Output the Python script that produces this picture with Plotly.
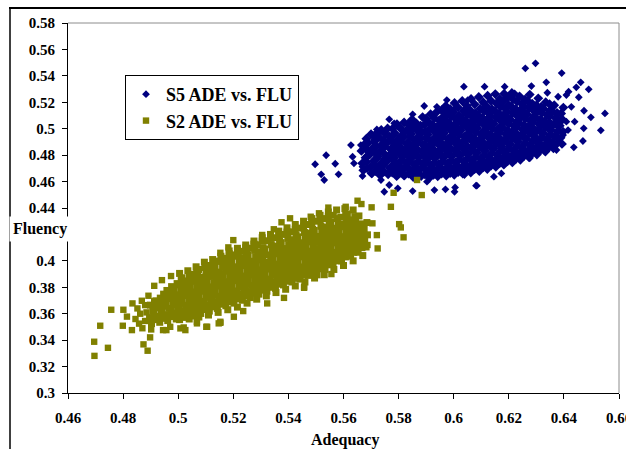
import plotly.graph_objects as go

# ---- data ----
s5_core = [
    (0.5672,0.4685),(0.5668,0.4738),(0.5680,0.4781),(0.5665,0.4832),(0.5675,0.4879),(0.5683,0.4925),
    (0.5702,0.4662),(0.5698,0.4710),(0.5710,0.4757),(0.5695,0.4805),(0.5705,0.4851),(0.5712,0.4902),(0.5700,0.4958),
    (0.5733,0.4648),(0.5728,0.4695),(0.5738,0.4741),(0.5725,0.4790),(0.5735,0.4836),(0.5741,0.4884),(0.5729,0.4935),(0.5737,0.4990),
    (0.5762,0.4655),(0.5768,0.4702),(0.5755,0.4750),(0.5765,0.4797),(0.5771,0.4845),(0.5758,0.4893),(0.5766,0.4941),(0.5760,0.5002),
    (0.5793,0.4641),(0.5788,0.4688),(0.5797,0.4733),(0.5785,0.4781),(0.5795,0.4826),(0.5790,0.4874),(0.5799,0.4921),(0.5786,0.4968),(0.5794,0.5035),
    (0.5822,0.4650),(0.5818,0.4697),(0.5827,0.4745),(0.5815,0.4790),(0.5824,0.4838),(0.5829,0.4886),(0.5817,0.4934),(0.5826,0.4983),(0.5820,0.5047),
    (0.5853,0.4635),(0.5848,0.4681),(0.5857,0.4727),(0.5845,0.4773),(0.5855,0.4820),(0.5850,0.4866),(0.5858,0.4912),(0.5846,0.4960),(0.5854,0.5010),(0.5849,0.5070),
    (0.5882,0.4642),(0.5877,0.4690),(0.5886,0.4736),(0.5874,0.4783),(0.5884,0.4829),(0.5889,0.4877),(0.5878,0.4924),(0.5885,0.4972),(0.5880,0.5022),(0.5887,0.5088),
    (0.5913,0.4630),(0.5908,0.4676),(0.5917,0.4722),(0.5905,0.4768),(0.5915,0.4815),(0.5910,0.4861),(0.5918,0.4907),(0.5906,0.4954),(0.5914,0.5001),(0.5909,0.5050),(0.5916,0.5110),
    (0.5942,0.4640),(0.5937,0.4687),(0.5946,0.4733),(0.5934,0.4780),(0.5944,0.4826),(0.5949,0.4873),(0.5938,0.4920),(0.5945,0.4967),(0.5940,0.5014),(0.5947,0.5063),(0.5939,0.5128),
    (0.5973,0.4645),(0.5968,0.4692),(0.5977,0.4738),(0.5965,0.4784),(0.5975,0.4830),(0.5970,0.4877),(0.5978,0.4923),(0.5966,0.4970),(0.5974,0.5017),(0.5969,0.5065),(0.5976,0.5115),(0.5971,0.5172),
    (0.6002,0.4652),(0.5997,0.4698),(0.6006,0.4745),(0.5994,0.4791),(0.6004,0.4838),(0.6009,0.4884),(0.5998,0.4931),(0.6005,0.4978),(0.6000,0.5025),(0.6007,0.5073),(0.5999,0.5124),(0.6003,0.5195),
    (0.6033,0.4660),(0.6028,0.4707),(0.6037,0.4753),(0.6025,0.4800),(0.6035,0.4846),(0.6030,0.4893),(0.6038,0.4940),(0.6026,0.4987),(0.6034,0.5034),(0.6029,0.5082),(0.6036,0.5133),(0.6031,0.5210),
    (0.6062,0.4668),(0.6057,0.4715),(0.6066,0.4761),(0.6054,0.4808),(0.6064,0.4855),(0.6069,0.4901),(0.6058,0.4948),(0.6065,0.4995),(0.6060,0.5042),(0.6067,0.5090),(0.6059,0.5142),(0.6063,0.5225),
    (0.6093,0.4680),(0.6088,0.4726),(0.6097,0.4772),(0.6085,0.4819),(0.6095,0.4865),(0.6090,0.4912),(0.6098,0.4958),(0.6086,0.5005),(0.6094,0.5052),(0.6089,0.5100),(0.6096,0.5152),(0.6091,0.5240),
    (0.6122,0.4695),(0.6117,0.4741),(0.6126,0.4787),(0.6114,0.4833),(0.6124,0.4880),(0.6129,0.4926),(0.6118,0.4973),(0.6125,0.5020),(0.6120,0.5068),(0.6127,0.5117),(0.6119,0.5170),(0.6123,0.5250),
    (0.6153,0.4712),(0.6148,0.4758),(0.6157,0.4804),(0.6145,0.4850),(0.6155,0.4897),(0.6150,0.4943),(0.6158,0.4990),(0.6146,0.5037),(0.6154,0.5085),(0.6149,0.5135),(0.6156,0.5190),(0.6151,0.5262),
    (0.6182,0.4728),(0.6177,0.4774),(0.6186,0.4820),(0.6174,0.4866),(0.6184,0.4913),(0.6189,0.4959),(0.6178,0.5006),(0.6185,0.5053),(0.6180,0.5101),(0.6187,0.5152),(0.6179,0.5205),(0.6183,0.5265),
    (0.6213,0.4745),(0.6208,0.4791),(0.6217,0.4837),(0.6205,0.4883),(0.6215,0.4929),(0.6210,0.4975),(0.6218,0.5022),(0.6206,0.5069),(0.6214,0.5117),(0.6209,0.5168),(0.6216,0.5222),(0.6211,0.5270),
    (0.6242,0.4765),(0.6237,0.4811),(0.6246,0.4857),(0.6234,0.4903),(0.6244,0.4949),(0.6249,0.4995),(0.6238,0.5042),(0.6245,0.5089),(0.6240,0.5137),(0.6247,0.5188),(0.6239,0.5245),
    (0.6273,0.4785),(0.6268,0.4831),(0.6277,0.4877),(0.6265,0.4923),(0.6275,0.4969),(0.6270,0.5015),(0.6278,0.5062),(0.6266,0.5109),(0.6274,0.5157),(0.6269,0.5208),(0.6276,0.5258),
    (0.6302,0.4805),(0.6297,0.4851),(0.6306,0.4897),(0.6294,0.4943),(0.6304,0.4989),(0.6309,0.5035),(0.6298,0.5082),(0.6305,0.5129),(0.6300,0.5177),(0.6307,0.5230),
    (0.6333,0.4828),(0.6328,0.4874),(0.6337,0.4920),(0.6325,0.4966),(0.6335,0.5012),(0.6330,0.5058),(0.6338,0.5105),(0.6326,0.5152),(0.6334,0.5200),
    (0.6362,0.4852),(0.6357,0.4898),(0.6366,0.4944),(0.6354,0.4990),(0.6364,0.5036),(0.6369,0.5082),(0.6358,0.5129),(0.6365,0.5178),
    (0.6393,0.4885),(0.6388,0.4931),(0.6397,0.4977),(0.6385,0.5023),(0.6395,0.5069),(0.6390,0.5115),(0.6398,0.5160),
]
s5_core_mid = [
    (0.5686,0.4700),(0.5683,0.4748),(0.5689,0.4795),(0.5684,0.4842),(0.5688,0.4890),
    (0.5716,0.4680),(0.5713,0.4727),(0.5719,0.4773),(0.5714,0.4820),(0.5718,0.4868),(0.5715,0.4918),(0.5720,0.4965),
    (0.5747,0.4675),(0.5744,0.4722),(0.5750,0.4770),(0.5745,0.4816),(0.5749,0.4864),(0.5746,0.4912),(0.5751,0.4962),
    (0.5777,0.4668),(0.5774,0.4715),(0.5780,0.4762),(0.5775,0.4808),(0.5779,0.4856),(0.5776,0.4902),(0.5781,0.4950),(0.5778,0.5000),
    (0.5808,0.4668),(0.5805,0.4716),(0.5811,0.4762),(0.5806,0.4808),(0.5810,0.4855),(0.5807,0.4903),(0.5812,0.4950),(0.5809,0.4998),
    (0.5836,0.4660),(0.5833,0.4706),(0.5839,0.4752),(0.5834,0.4800),(0.5838,0.4846),(0.5835,0.4894),(0.5840,0.4942),(0.5837,0.4990),(0.5834,0.5035),
    (0.5867,0.4658),(0.5864,0.4704),(0.5870,0.4750),(0.5865,0.4797),(0.5869,0.4843),(0.5866,0.4890),(0.5871,0.4938),(0.5868,0.4985),(0.5865,0.5040),
    (0.5896,0.4653),(0.5893,0.4700),(0.5899,0.4745),(0.5894,0.4792),(0.5898,0.4838),(0.5895,0.4885),(0.5900,0.4932),(0.5897,0.4980),(0.5894,0.5030),(0.5899,0.5075),
    (0.5927,0.4652),(0.5924,0.4698),(0.5930,0.4745),(0.5925,0.4792),(0.5929,0.4838),(0.5926,0.4885),(0.5931,0.4932),(0.5928,0.4980),(0.5925,0.5028),(0.5930,0.5080),
    (0.5956,0.4660),(0.5953,0.4706),(0.5959,0.4752),(0.5954,0.4798),(0.5958,0.4845),(0.5955,0.4892),(0.5960,0.4940),(0.5957,0.4988),(0.5954,0.5035),(0.5959,0.5085),(0.5956,0.5140),
    (0.5987,0.4665),(0.5984,0.4712),(0.5990,0.4758),(0.5985,0.4805),(0.5989,0.4852),(0.5986,0.4898),(0.5991,0.4945),(0.5988,0.4993),(0.5985,0.5040),(0.5990,0.5090),(0.5987,0.5150),
    (0.6016,0.4672),(0.6013,0.4720),(0.6019,0.4766),(0.6014,0.4812),(0.6018,0.4860),(0.6015,0.4906),(0.6020,0.4952),(0.6017,0.5000),(0.6014,0.5048),(0.6019,0.5098),(0.6016,0.5160),
    (0.6047,0.4684),(0.6044,0.4730),(0.6050,0.4776),(0.6045,0.4822),(0.6049,0.4868),(0.6046,0.4915),(0.6051,0.4962),(0.6048,0.5010),(0.6045,0.5058),(0.6050,0.5105),(0.6047,0.5175),
    (0.6076,0.4695),(0.6073,0.4740),(0.6079,0.4786),(0.6074,0.4832),(0.6078,0.4880),(0.6075,0.4926),(0.6080,0.4972),(0.6077,0.5020),(0.6074,0.5068),(0.6079,0.5118),(0.6076,0.5185),
    (0.6107,0.4708),(0.6104,0.4755),(0.6110,0.4800),(0.6105,0.4846),(0.6109,0.4892),(0.6106,0.4940),(0.6111,0.4986),(0.6108,0.5034),(0.6105,0.5082),(0.6110,0.5132),(0.6107,0.5200),
    (0.6136,0.4722),(0.6133,0.4768),(0.6139,0.4815),(0.6134,0.4862),(0.6138,0.4908),(0.6135,0.4954),(0.6140,0.5000),(0.6137,0.5048),(0.6134,0.5096),(0.6139,0.5148),(0.6136,0.5210),
    (0.6167,0.4740),(0.6164,0.4786),(0.6170,0.4832),(0.6165,0.4878),(0.6169,0.4925),(0.6166,0.4972),(0.6171,0.5018),(0.6168,0.5066),(0.6165,0.5115),(0.6170,0.5165),(0.6167,0.5225),
    (0.6196,0.4756),(0.6193,0.4802),(0.6199,0.4848),(0.6194,0.4895),(0.6198,0.4940),(0.6195,0.4988),(0.6200,0.5035),(0.6197,0.5082),(0.6194,0.5130),(0.6199,0.5180),(0.6196,0.5235),
    (0.6227,0.4775),(0.6224,0.4822),(0.6230,0.4868),(0.6225,0.4915),(0.6229,0.4960),(0.6226,0.5008),(0.6231,0.5055),(0.6228,0.5102),(0.6225,0.5150),(0.6230,0.5205),
    (0.6256,0.4795),(0.6253,0.4842),(0.6259,0.4888),(0.6254,0.4935),(0.6258,0.4980),(0.6255,0.5028),(0.6260,0.5075),(0.6257,0.5122),(0.6254,0.5170),(0.6259,0.5222),
    (0.6287,0.4818),(0.6284,0.4864),(0.6290,0.4910),(0.6285,0.4956),(0.6289,0.5002),(0.6286,0.5048),(0.6291,0.5095),(0.6288,0.5142),(0.6285,0.5190),
    (0.6316,0.4840),(0.6313,0.4886),(0.6319,0.4932),(0.6314,0.4978),(0.6318,0.5024),(0.6315,0.5070),(0.6320,0.5118),(0.6317,0.5165),
    (0.6347,0.4862),(0.6344,0.4908),(0.6350,0.4955),(0.6345,0.5000),(0.6349,0.5046),(0.6346,0.5094),(0.6351,0.5140),(0.6348,0.5185),
    (0.6376,0.4890),(0.6373,0.4936),(0.6379,0.4982),(0.6374,0.5028),(0.6378,0.5074),(0.6375,0.5120),
]
s5_fringe = [
    (0.5497,0.4731),(0.5537,0.4799),(0.5570,0.4735),(0.5519,0.4655),(0.5530,0.4612),(0.5582,0.4655),
    (0.5627,0.4876),(0.5663,0.4876),(0.5633,0.4788),(0.5638,0.4738),(0.5669,0.4712),(0.5669,0.4642),
    (0.5703,0.4655),(0.5736,0.4612),(0.5766,0.4574),(0.5748,0.4523),(0.5797,0.4549),(0.5851,0.4528),
    (0.5930,0.4536),(0.5970,0.4541),(0.6005,0.4556),(0.6003,0.4523),(0.5820,0.4637),(0.5903,0.4599),
    (0.5693,0.4894),(0.5705,0.4952),(0.5721,0.4995),(0.5766,0.5071),(0.5784,0.5041),(0.5818,0.5045),
    (0.5851,0.5109),(0.5893,0.5172),(0.5939,0.5166),(0.5975,0.5217),(0.6005,0.5154),(0.6051,0.5217),
    (0.6037,0.5318),(0.6112,0.5318),(0.6185,0.5318),(0.6221,0.5268),(0.6282,0.5323),(0.6260,0.5457),
    (0.6297,0.5495),(0.6336,0.5351),(0.6340,0.5272),(0.6379,0.5242),(0.6409,0.5255),(0.6392,0.5421),
    (0.6461,0.5351),(0.6490,0.5298),(0.6445,0.5313),(0.6417,0.5280),(0.6454,0.5238),(0.6427,0.5166),
    (0.6473,0.5136),(0.6498,0.5086),(0.6549,0.5116),(0.6534,0.4988),(0.6472,0.5003),(0.6439,0.5053),
    (0.6409,0.5053),(0.6415,0.4990),(0.6397,0.4952),(0.6469,0.4907),(0.6436,0.4859),(0.6373,0.4839),
    (0.6330,0.4826),(0.6343,0.4877),(0.6306,0.4914),(0.6276,0.4776),(0.6239,0.4788),(0.6173,0.4662),
    (0.6146,0.4637),(0.6081,0.4569),(0.6039,0.4649),(0.6084,0.4569),
]
s2_core = [
    (0.4903,0.3525),(0.4896,0.3570),(0.4908,0.3618),(0.4899,0.3665),
    (0.4933,0.3535),(0.4926,0.3580),(0.4938,0.3627),(0.4929,0.3672),(0.4935,0.3718),
    (0.4962,0.3548),(0.4957,0.3592),(0.4967,0.3640),(0.4955,0.3686),(0.4965,0.3731),(0.4959,0.3776),
    (0.4993,0.3560),(0.4986,0.3605),(0.4998,0.3652),(0.4989,0.3698),(0.4995,0.3743),(0.4984,0.3790),(0.4996,0.3828),
    (0.5022,0.3572),(0.5017,0.3617),(0.5027,0.3664),(0.5015,0.3710),(0.5025,0.3755),(0.5019,0.3802),(0.5028,0.3848),(0.5014,0.3872),
    (0.5053,0.3582),(0.5046,0.3627),(0.5058,0.3674),(0.5049,0.3720),(0.5055,0.3765),(0.5044,0.3812),(0.5056,0.3857),(0.5050,0.3898),
    (0.5082,0.3602),(0.5077,0.3647),(0.5087,0.3694),(0.5075,0.3740),(0.5085,0.3785),(0.5079,0.3832),(0.5088,0.3877),(0.5074,0.3935),
    (0.5113,0.3620),(0.5106,0.3665),(0.5118,0.3712),(0.5109,0.3758),(0.5115,0.3803),(0.5104,0.3850),(0.5116,0.3895),(0.5110,0.3965),(0.5107,0.3930),
    (0.5142,0.3640),(0.5137,0.3685),(0.5147,0.3732),(0.5135,0.3778),(0.5145,0.3823),(0.5139,0.3870),(0.5148,0.3915),(0.5134,0.3960),(0.5143,0.3998),
    (0.5173,0.3660),(0.5166,0.3705),(0.5178,0.3752),(0.5169,0.3798),(0.5175,0.3843),(0.5164,0.3890),(0.5176,0.3935),(0.5170,0.3980),(0.5167,0.4020),
    (0.5202,0.3680),(0.5197,0.3725),(0.5207,0.3772),(0.5195,0.3818),(0.5205,0.3863),(0.5199,0.3910),(0.5208,0.3955),(0.5194,0.4000),(0.5203,0.4045),
    (0.5233,0.3702),(0.5226,0.3747),(0.5238,0.3794),(0.5229,0.3840),(0.5235,0.3885),(0.5224,0.3932),(0.5236,0.3977),(0.5230,0.4022),(0.5227,0.4072),
    (0.5262,0.3722),(0.5257,0.3767),(0.5267,0.3814),(0.5255,0.3860),(0.5265,0.3905),(0.5259,0.3952),(0.5268,0.3997),(0.5254,0.4042),(0.5263,0.4095),
    (0.5293,0.3748),(0.5286,0.3793),(0.5298,0.3840),(0.5289,0.3886),(0.5295,0.3931),(0.5284,0.3978),(0.5296,0.4023),(0.5290,0.4068),(0.5287,0.4122),
    (0.5322,0.3770),(0.5317,0.3815),(0.5327,0.3862),(0.5315,0.3908),(0.5325,0.3953),(0.5319,0.3990),(0.5328,0.4045),(0.5314,0.4090),(0.5323,0.4152),
    (0.5353,0.3792),(0.5346,0.3837),(0.5358,0.3884),(0.5349,0.3930),(0.5355,0.3975),(0.5344,0.4022),(0.5356,0.4067),(0.5350,0.4112),(0.5347,0.4175),
    (0.5382,0.3818),(0.5377,0.3863),(0.5387,0.3910),(0.5375,0.3956),(0.5385,0.4001),(0.5379,0.4048),(0.5388,0.4093),(0.5374,0.4138),(0.5383,0.4200),
    (0.5413,0.3840),(0.5406,0.3885),(0.5418,0.3932),(0.5409,0.3978),(0.5415,0.4023),(0.5404,0.4070),(0.5416,0.4115),(0.5410,0.4160),(0.5407,0.4220),
    (0.5442,0.3862),(0.5437,0.3907),(0.5447,0.3954),(0.5435,0.4000),(0.5445,0.4045),(0.5439,0.4092),(0.5448,0.4137),(0.5434,0.4182),(0.5443,0.4248),
    (0.5473,0.3890),(0.5466,0.3935),(0.5478,0.3982),(0.5469,0.4028),(0.5475,0.4073),(0.5464,0.4120),(0.5476,0.4165),(0.5470,0.4210),(0.5467,0.4275),
    (0.5502,0.3910),(0.5497,0.3955),(0.5507,0.4002),(0.5495,0.4048),(0.5505,0.4093),(0.5499,0.4140),(0.5508,0.4185),(0.5494,0.4230),(0.5503,0.4300),
    (0.5533,0.3935),(0.5526,0.3980),(0.5538,0.4027),(0.5529,0.4073),(0.5535,0.4118),(0.5524,0.4165),(0.5536,0.4210),(0.5530,0.4255),(0.5527,0.4320),
    (0.5562,0.3972),(0.5557,0.4017),(0.5567,0.4064),(0.5555,0.4110),(0.5565,0.4155),(0.5559,0.4202),(0.5568,0.4247),(0.5554,0.4292),(0.5563,0.4345),
    (0.5593,0.4000),(0.5586,0.4045),(0.5598,0.4092),(0.5589,0.4138),(0.5595,0.4183),(0.5584,0.4230),(0.5596,0.4275),(0.5590,0.4330),
    (0.5622,0.4035),(0.5617,0.4080),(0.5627,0.4127),(0.5615,0.4173),(0.5625,0.4218),(0.5619,0.4265),(0.5628,0.4310),(0.5614,0.4355),
    (0.5653,0.4065),(0.5646,0.4110),(0.5658,0.4157),(0.5649,0.4203),(0.5655,0.4248),(0.5644,0.4295),(0.5656,0.4340),
    (0.5682,0.4105),(0.5677,0.4150),(0.5687,0.4197),(0.5675,0.4243),(0.5685,0.4290),
]
s2_core_mid = [
    (0.4915,0.3555),(0.4912,0.3600),(0.4918,0.3645),(0.4914,0.3692),
    (0.4945,0.3565),(0.4942,0.3610),(0.4948,0.3657),(0.4944,0.3702),(0.4947,0.3748),
    (0.4977,0.3578),(0.4974,0.3622),(0.4980,0.3668),(0.4975,0.3714),(0.4979,0.3760),(0.4976,0.3805),
    (0.5007,0.3588),(0.5004,0.3634),(0.5010,0.3680),(0.5005,0.3726),(0.5009,0.3772),(0.5006,0.3818),(0.5011,0.3858),
    (0.5037,0.3600),(0.5034,0.3645),(0.5040,0.3692),(0.5035,0.3738),(0.5039,0.3784),(0.5036,0.3830),(0.5041,0.3875),
    (0.5066,0.3615),(0.5063,0.3660),(0.5069,0.3706),(0.5064,0.3752),(0.5068,0.3798),(0.5065,0.3845),(0.5070,0.3890),(0.5067,0.3915),
    (0.5097,0.3632),(0.5094,0.3678),(0.5100,0.3724),(0.5095,0.3770),(0.5099,0.3815),(0.5096,0.3862),(0.5101,0.3910),(0.5098,0.3950),
    (0.5127,0.3652),(0.5124,0.3698),(0.5130,0.3744),(0.5125,0.3790),(0.5129,0.3835),(0.5126,0.3882),(0.5131,0.3930),(0.5128,0.3978),
    (0.5157,0.3672),(0.5154,0.3718),(0.5160,0.3764),(0.5155,0.3810),(0.5159,0.3855),(0.5156,0.3902),(0.5161,0.3950),(0.5158,0.3995),
    (0.5187,0.3692),(0.5184,0.3738),(0.5190,0.3784),(0.5185,0.3830),(0.5189,0.3875),(0.5186,0.3922),(0.5191,0.3968),(0.5188,0.4012),(0.5185,0.4055),
    (0.5217,0.3712),(0.5214,0.3758),(0.5220,0.3804),(0.5215,0.3850),(0.5219,0.3895),(0.5216,0.3942),(0.5221,0.3988),(0.5218,0.4035),(0.5215,0.4080),
    (0.5247,0.3734),(0.5244,0.3780),(0.5250,0.3826),(0.5245,0.3872),(0.5249,0.3918),(0.5246,0.3964),(0.5251,0.4010),(0.5248,0.4058),(0.5245,0.4100),
    (0.5277,0.3756),(0.5274,0.3802),(0.5280,0.3848),(0.5275,0.3894),(0.5279,0.3940),(0.5276,0.3986),(0.5281,0.4032),(0.5278,0.4080),(0.5275,0.4125),
    (0.5307,0.3778),(0.5304,0.3824),(0.5310,0.3870),(0.5305,0.3916),(0.5309,0.3962),(0.5306,0.4008),(0.5311,0.4055),(0.5308,0.4100),(0.5305,0.4150),
    (0.5337,0.3800),(0.5334,0.3846),(0.5340,0.3892),(0.5335,0.3938),(0.5339,0.3984),(0.5336,0.4030),(0.5341,0.4076),(0.5338,0.4122),(0.5335,0.4170),
    (0.5367,0.3824),(0.5364,0.3870),(0.5370,0.3916),(0.5365,0.3962),(0.5369,0.4008),(0.5366,0.4054),(0.5371,0.4100),(0.5368,0.4148),(0.5365,0.4195),
    (0.5397,0.3846),(0.5394,0.3892),(0.5400,0.3938),(0.5395,0.3984),(0.5399,0.4030),(0.5396,0.4076),(0.5401,0.4122),(0.5398,0.4170),(0.5395,0.4218),
    (0.5427,0.3868),(0.5424,0.3914),(0.5430,0.3960),(0.5425,0.4006),(0.5429,0.4052),(0.5426,0.4098),(0.5431,0.4144),(0.5428,0.4192),(0.5425,0.4240),
    (0.5457,0.3892),(0.5454,0.3938),(0.5460,0.3984),(0.5455,0.4030),(0.5459,0.4076),(0.5456,0.4122),(0.5461,0.4168),(0.5458,0.4215),(0.5455,0.4262),
    (0.5487,0.3915),(0.5484,0.3960),(0.5490,0.4006),(0.5485,0.4052),(0.5489,0.4098),(0.5486,0.4144),(0.5491,0.4190),(0.5488,0.4238),(0.5485,0.4285),
    (0.5517,0.3940),(0.5514,0.3986),(0.5520,0.4032),(0.5515,0.4078),(0.5519,0.4124),(0.5516,0.4170),(0.5521,0.4216),(0.5518,0.4262),(0.5515,0.4310),
    (0.5547,0.3970),(0.5544,0.4015),(0.5550,0.4060),(0.5545,0.4106),(0.5549,0.4152),(0.5546,0.4198),(0.5551,0.4245),(0.5548,0.4290),(0.5545,0.4335),
    (0.5577,0.4000),(0.5574,0.4045),(0.5580,0.4090),(0.5575,0.4136),(0.5579,0.4182),(0.5576,0.4228),(0.5581,0.4274),(0.5578,0.4320),
    (0.5607,0.4030),(0.5604,0.4075),(0.5610,0.4120),(0.5605,0.4166),(0.5609,0.4212),(0.5606,0.4258),(0.5611,0.4304),(0.5608,0.4345),
    (0.5637,0.4065),(0.5634,0.4110),(0.5640,0.4155),(0.5635,0.4200),(0.5639,0.4246),(0.5636,0.4292),(0.5641,0.4335),
    (0.5667,0.4100),(0.5664,0.4145),(0.5670,0.4190),(0.5665,0.4236),(0.5669,0.4280),
]
s2_edges = [
    (0.5005,0.3905),(0.5035,0.3925),(0.5065,0.3955),(0.5095,0.3990),(0.5125,0.4010),(0.5155,0.4035),
    (0.5185,0.4075),(0.5215,0.4095),(0.5245,0.4120),(0.5275,0.4150),(0.5305,0.4175),(0.5335,0.4200),
    (0.5365,0.4225),(0.5395,0.4250),(0.5425,0.4275),(0.5455,0.4300),(0.5485,0.4320),(0.5515,0.4345),
    (0.5545,0.4370),(0.5575,0.4385),(0.5605,0.4395),(0.5635,0.4385),
    (0.5005,0.3555),(0.5040,0.3560),(0.5075,0.3575),(0.5110,0.3590),(0.5145,0.3610),(0.5180,0.3630),
    (0.5215,0.3650),(0.5250,0.3680),(0.5285,0.3710),(0.5320,0.3735),(0.5355,0.3760),(0.5390,0.3785),
    (0.5425,0.3810),(0.5460,0.3840),(0.5495,0.3870),(0.5530,0.3895),(0.5565,0.3935),(0.5600,0.3965),
    (0.5635,0.4000),(0.5670,0.4040),
]
s2_fringe = [
    (0.4695,0.3388),(0.4696,0.3281),(0.4717,0.3509),(0.4745,0.3342),(0.4757,0.3630),(0.4801,0.3630),
    (0.4799,0.3509),(0.4874,0.3368),(0.4889,0.3320),(0.4898,0.3421),(0.4834,0.3678),(0.4814,0.3578),
    (0.4832,0.3476),(0.4868,0.3698),(0.4902,0.3481),(0.4941,0.3854),(0.4913,0.3811),(0.4892,0.3736),
    (0.4974,0.3885),(0.4957,0.3476),(0.4971,0.3501),(0.5020,0.3496),(0.5068,0.3527),(0.5102,0.3501),
    (0.5153,0.3531),(0.5202,0.3577),(0.5236,0.3620),(0.5200,0.4157),(0.5182,0.4102),(0.5153,0.4061),
    (0.5384,0.3720),(0.5457,0.3796),(0.5323,0.3678),(0.5147,0.3527),(0.5545,0.4403),(0.5608,0.4409),
    (0.5651,0.4455),(0.5665,0.4430),(0.5702,0.4405),(0.5772,0.4409),(0.5802,0.4278),(0.5808,0.4253),
    (0.5818,0.4178),(0.5721,0.4195),(0.5705,0.4284),(0.5724,0.4094),(0.5687,0.4120),(0.5651,0.4087),
    (0.5627,0.4044),(0.5556,0.3900),(0.5505,0.3892),(0.5457,0.3804),(0.5406,0.4322),(0.5375,0.4292),
    (0.5347,0.4239),(0.5305,0.4196),(0.5275,0.4133),(0.5250,0.4082),(0.5481,0.4334),(0.5511,0.4360),
    (0.5867,0.4612),(0.5782,0.4515),(0.5884,0.4498),
    (0.4845,0.3560),(0.4858,0.3525),(0.4862,0.3600),(0.4880,0.3545),(0.4885,0.3610),(0.4870,0.3490),
    (0.4852,0.3640),(0.4905,0.3560),(0.4912,0.3655),(0.4918,0.3700),(0.4880,0.3665),
    (0.4945,0.3476),(0.5008,0.3489),(0.5026,0.3476),(0.5068,0.3539),(0.5105,0.3501),(0.5153,0.3539),
]

series_names = ["S5 ADE vs. FLU", "S2 ADE vs. FLU"]
x_ticks = [0.46, 0.48, 0.50, 0.52, 0.54, 0.56, 0.58, 0.60, 0.62, 0.64, 0.66]
x_tick_labels = ["0.46", "0.48", "0.5", "0.52", "0.54", "0.56", "0.58", "0.6", "0.62", "0.64", "0.66"]
y_ticks = [0.30, 0.32, 0.34, 0.36, 0.38, 0.40, 0.42, 0.44, 0.46, 0.48, 0.50, 0.52, 0.54, 0.56, 0.58]
# the 0.42 label sits behind the "Fluency" title in the reference
y_tick_labels = ["0.3", "0.32", "0.34", "0.36", "0.38", "0.4", "", "0.44", "0.46", "0.48",
                 "0.5", "0.52", "0.54", "0.56", "0.58"]

NAVY, OLIVE = "#000080", "#808000"
SERIF = "Liberation Serif, Times New Roman, serif"

s5_dense = s5_core + s5_core_mid
s2_dense = s2_core + s2_core_mid + s2_edges

fig = go.Figure()
fig.add_trace(go.Scatter(
    x=[p[0] for p in s5_dense], y=[p[1] for p in s5_dense], mode="markers",
    name=series_names[0], legendgroup="s5", showlegend=False,
    marker=dict(symbol="diamond", size=7.6, color=NAVY, line=dict(width=0)),
))
fig.add_trace(go.Scatter(
    x=[p[0] for p in s5_fringe], y=[p[1] for p in s5_fringe], mode="markers",
    name=series_names[0], legendgroup="s5",
    marker=dict(symbol="diamond", size=6.0, color=NAVY, line=dict(width=0)),
))
fig.add_trace(go.Scatter(
    x=[p[0] for p in s2_dense], y=[p[1] for p in s2_dense], mode="markers",
    name=series_names[1], legendgroup="s2", showlegend=False,
    marker=dict(symbol="square", size=7.0, color=OLIVE, line=dict(width=0)),
))
fig.add_trace(go.Scatter(
    x=[p[0] for p in s2_fringe], y=[p[1] for p in s2_fringe], mode="markers",
    name=series_names[1], legendgroup="s2",
    marker=dict(symbol="square", size=6.4, color=OLIVE, line=dict(width=0)),
))

W, H = 626, 449
L, R, T, B = 68, 619, 23, 393

def px2dom_x(px):
    return (px - L) / (R - L)

def px2dom_y(py):
    return (B - py) / (B - T)

axis_common = dict(
    showgrid=False, zeroline=False, showline=True, linecolor="black", linewidth=1,
    ticks="outside", ticklen=5, tickcolor="black", tickwidth=1,
    tickfont=dict(family=SERIF, size=15, color="black", weight="bold"),
    ticklabeloverflow="allow", automargin=False,
)
fig.update_xaxes(range=[0.46, 0.66], tickvals=x_ticks, ticktext=x_tick_labels,
                 ticklabelstandoff=6, **axis_common)
fig.update_yaxes(range=[0.30, 0.58], tickvals=y_ticks, ticktext=y_tick_labels,
                 ticklabelstandoff=4, **axis_common)

DOM = dict(xref="x domain", yref="y domain", layer="above")
shapes = [
    dict(type="line", x0=0, x1=1, y0=1, y1=1, line=dict(color="#8c8c8c", width=1), **DOM),
    dict(type="line", x0=1, x1=1, y0=0, y1=1, line=dict(color="#8c8c8c", width=1), **DOM),
    dict(type="line", x0=px2dom_x(9.3), x1=px2dom_x(640), y0=px2dom_y(8.2), y1=px2dom_y(8.2),
         line=dict(color="black", width=1.5), **DOM),
    dict(type="line", x0=px2dom_x(10), x1=px2dom_x(10), y0=px2dom_y(7.5), y1=px2dom_y(470),
         line=dict(color="black", width=1.5), **DOM),
]

annotations = [
    dict(text=" ", xref="paper", yref="paper", x=px2dom_x(9.3), y=px2dom_y(7.2),
         xanchor="left", yanchor="top", width=640, height=2, bgcolor="black",
         borderpad=0, borderwidth=0, showarrow=False, font=dict(size=1, color="black")),
    dict(text="Fluency", xref="paper", yref="paper", x=px2dom_x(39.5), y=px2dom_y(229),
         showarrow=False, xanchor="center", yanchor="middle", bgcolor="white", borderpad=3,
         font=dict(family=SERIF, size=16, color="black", weight="bold")),
    dict(text="Adequacy", xref="paper", yref="paper", x=px2dom_x(345), y=px2dom_y(440),
         showarrow=False, xanchor="center", yanchor="middle",
         font=dict(family=SERIF, size=16, color="black", weight="bold")),
]

fig.update_layout(
    width=W, height=H, autosize=False,
    margin=dict(l=L, r=W - R, t=T, b=H - B, pad=0, autoexpand=False),
    paper_bgcolor="white", plot_bgcolor="white",
    shapes=shapes, annotations=annotations,
    showlegend=True,
    legend=dict(x=px2dom_x(125), y=px2dom_y(75), xanchor="left", yanchor="top",
                bgcolor="white", bordercolor="black", borderwidth=1, tracegroupgap=0,
                font=dict(family=SERIF, size=18, color="black", weight="bold"),
                itemsizing="trace"),
)

fig.write_html(
    "out.html",
    config={"displayModeBar": False},
    post_script="document.body.style.margin='0';document.body.style.overflow='hidden';",
)
